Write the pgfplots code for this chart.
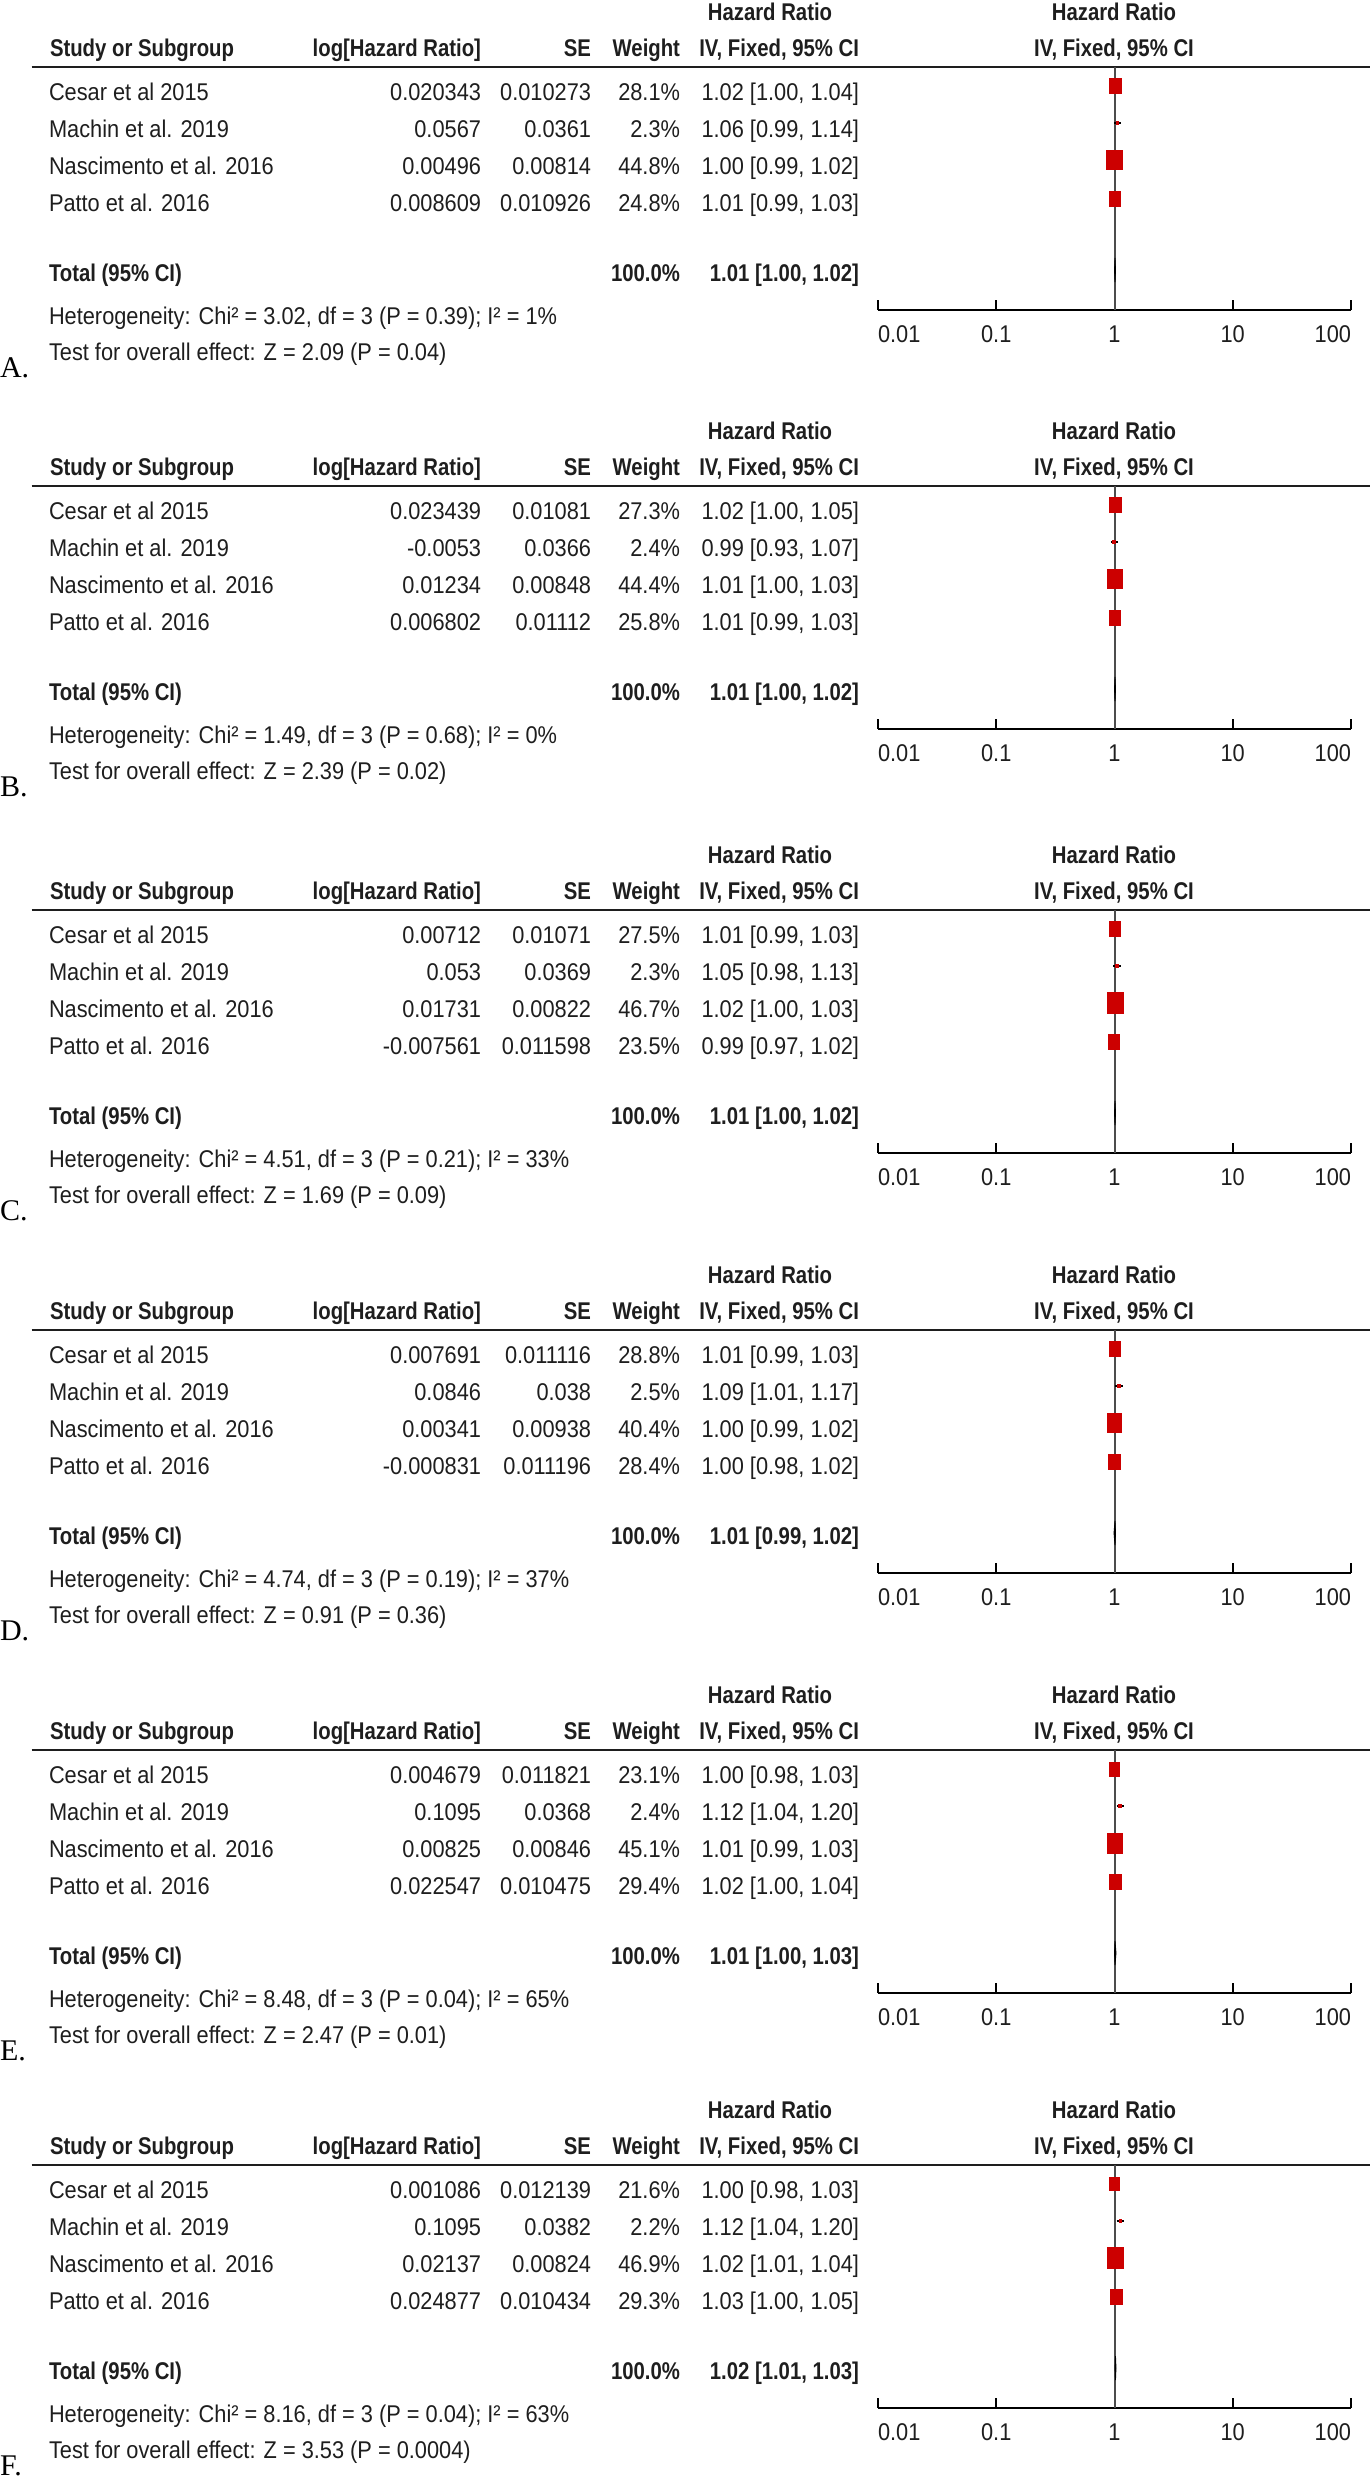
\documentclass[border=0pt]{standalone}
\usepackage{fontspec}
\setmainfont{Liberation Sans}[FakeStretch=0.9, BoldFeatures={FakeStretch=0.84}]
\newfontfamily\serifA{Liberation Serif}
\usepackage{pgfplots}
\pgfplotsset{compat=1.18}
\definecolor{boxred}{RGB}{204,0,0}
\definecolor{txt}{RGB}{30,30,30}
\newcommand\T{\fontsize{12.1}{14}\selectfont}
\pgfdeclareplotmark{fbox}{%
 \pgfpathrectanglecorners{\pgfpoint{-\pgfplotmarksize}{-1.3\pgfplotmarksize}}{\pgfpoint{\pgfplotmarksize}{1.3\pgfplotmarksize}}%
 \pgfusepathqfill}
\pgfplotsset{every axis/.append style={
  xmode=log, xmin=0.01, xmax=100, ymin=-310, ymax=-67,
  width=236.5pt, height=121.5pt, scale only axis,
  axis x line*=bottom, axis y line=none,
  xtick={0.01,0.1,1,10,100},
  xticklabels={{\makebox[0pt][l]{0.01}},0.1,1,10,{\makebox[0pt][r]{100}}},
  xminorticks=false,
  tick align=inside, major tick length=5pt,
  every tick/.style={black, line width=1pt},
  axis line style={black, line width=1.2pt},
  xticklabel style={font=\T, anchor=base, yshift=-16.3pt, text=txt},
  clip=false, anchor=south west,
}}
\newcommand\Head{%
 \node[anchor=base] at (770,\po+20.5) {\bfseries Hazard Ratio};
 \node[anchor=base] at (1114,\po+20.5) {\bfseries Hazard Ratio};
 \node[anchor=base west] at (50,\po+56.5) {\bfseries Study or Subgroup};
 \node[anchor=base east] at (481,\po+56.5) {\bfseries log[Hazard Ratio]};
 \node[anchor=base east] at (591,\po+56.5) {\bfseries SE};
 \node[anchor=base east] at (680,\po+56.5) {\bfseries Weight};
 \node[anchor=base east] at (859,\po+56.5) {\bfseries IV, Fixed, 95\% CI};
 \node[anchor=base] at (1114,\po+56.5) {\bfseries IV, Fixed, 95\% CI};
 \draw[line width=1.3pt, txt] (31.6,\po+67) -- (1370,\po+67);
 \node[anchor=base west] at (49,\po+281.5) {\bfseries Total (95\% CI)};
 \node[anchor=base east] at (680,\po+281.5) {\bfseries 100.0\%};}
\newcommand\Row[6]{%
 \node[anchor=base west] at (49,\po+#1) {#2};
 \node[anchor=base east] at (481,\po+#1) {#3};
 \node[anchor=base east] at (591,\po+#1) {#4};
 \node[anchor=base east] at (680,\po+#1) {#5\%};
 \node[anchor=base east] at (859,\po+#1) {#6};}
\newcommand\Foot[4]{%
 \node[anchor=base east] at (859,\po+281.5) {\bfseries #1};
 \node[anchor=base west] at (49,\po+324.5) {#2};
 \node[anchor=base west] at (49,\po+360.5) {#3};
 \node[anchor=base west, font={\serifA\fontsize{15}{18}\selectfont}, text=black] at (0,\po+377) {#4.};}
\begin{document}
\begin{tikzpicture}[x=0.5pt,y=-0.5pt, every node/.style={inner sep=0pt, outer sep=0pt, text=txt, font=\T}]
\useasboundingbox (0,0) rectangle (1370,2479);
% ---------------- A
\def\po{0}
\Head
\Row{100.5}{Cesar et al 2015}{0.020343}{0.010273}{28.1}{1.02 [1.00, 1.04]}
\Row{137.5}{Machin et al. 2019}{0.0567}{0.0361}{2.3}{1.06 [0.99, 1.14]}
\Row{174.5}{Nascimento et al. 2016}{0.00496}{0.00814}{44.8}{1.00 [0.99, 1.02]}
\Row{211.5}{Patto et al. 2016}{0.008609}{0.010926}{24.8}{1.01 [0.99, 1.03]}
\Foot{1.01 [1.00, 1.02]}{Heterogeneity: Chi² = 3.02, df = 3 (P = 0.39); I² = 1\%}{Test for overall effect: Z = 2.09 (P = 0.04)}{A}
\begin{axis}[at={(439pt,-155pt)}]
\addplot[black!70, line width=1pt] coordinates {(1,-67) (1,-310)};
\addplot[black, line width=1pt] coordinates {(1.00,-86) (1.04,-86)};
\addplot[black, line width=1pt] coordinates {(0.99,-123) (1.14,-123)};
\addplot[black, line width=1pt] coordinates {(0.99,-160) (1.02,-160)};
\addplot[black, line width=1pt] coordinates {(0.99,-199) (1.03,-199)};
\addplot[scatter, only marks, mark=fbox, scatter/use mapped color={draw=boxred, fill=boxred},
  visualization depends on={0.6*sqrt(\thisrow{w}) \as \hw},
  scatter/@pre marker code/.append style={/tikz/mark size=\hw}]
  table[x=hr, y=y, row sep=\\] {hr y w\\ 1.02 -86 28.1\\ 1.06 -123 2.3\\ 1.00 -160 44.8\\ 1.01 -199 24.8\\};
\addplot[fill=black, draw=black, line width=0.4pt] coordinates {(1.00,-270) (1.01,-258) (1.02,-270) (1.01,-282) (1.00,-270)};
\end{axis}
% ---------------- B
\def\po{419}
\Head
\Row{100.5}{Cesar et al 2015}{0.023439}{0.01081}{27.3}{1.02 [1.00, 1.05]}
\Row{137.5}{Machin et al. 2019}{-0.0053}{0.0366}{2.4}{0.99 [0.93, 1.07]}
\Row{174.5}{Nascimento et al. 2016}{0.01234}{0.00848}{44.4}{1.01 [1.00, 1.03]}
\Row{211.5}{Patto et al. 2016}{0.006802}{0.01112}{25.8}{1.01 [0.99, 1.03]}
\Foot{1.01 [1.00, 1.02]}{Heterogeneity: Chi² = 1.49, df = 3 (P = 0.68); I² = 0\%}{Test for overall effect: Z = 2.39 (P = 0.02)}{B}
\begin{axis}[at={(439pt,-364.5pt)}]
\addplot[black!70, line width=1pt] coordinates {(1,-67) (1,-310)};
\addplot[black, line width=1pt] coordinates {(1.00,-86) (1.05,-86)};
\addplot[black, line width=1pt] coordinates {(0.93,-123) (1.07,-123)};
\addplot[black, line width=1pt] coordinates {(1.00,-160) (1.03,-160)};
\addplot[black, line width=1pt] coordinates {(0.99,-199) (1.03,-199)};
\addplot[scatter, only marks, mark=fbox, scatter/use mapped color={draw=boxred, fill=boxred},
  visualization depends on={0.6*sqrt(\thisrow{w}) \as \hw},
  scatter/@pre marker code/.append style={/tikz/mark size=\hw}]
  table[x=hr, y=y, row sep=\\] {hr y w\\ 1.02 -86 27.3\\ 0.99 -123 2.4\\ 1.01 -160 44.4\\ 1.01 -199 25.8\\};
\addplot[fill=black, draw=black, line width=0.4pt] coordinates {(1.00,-270) (1.01,-258) (1.02,-270) (1.01,-282) (1.00,-270)};
\end{axis}
% ---------------- C
\def\po{843}
\Head
\Row{100.5}{Cesar et al 2015}{0.00712}{0.01071}{27.5}{1.01 [0.99, 1.03]}
\Row{137.5}{Machin et al. 2019}{0.053}{0.0369}{2.3}{1.05 [0.98, 1.13]}
\Row{174.5}{Nascimento et al. 2016}{0.01731}{0.00822}{46.7}{1.02 [1.00, 1.03]}
\Row{211.5}{Patto et al. 2016}{-0.007561}{0.011598}{23.5}{0.99 [0.97, 1.02]}
\Foot{1.01 [1.00, 1.02]}{Heterogeneity: Chi² = 4.51, df = 3 (P = 0.21); I² = 33\%}{Test for overall effect: Z = 1.69 (P = 0.09)}{C}
\begin{axis}[at={(439pt,-576.5pt)}]
\addplot[black!70, line width=1pt] coordinates {(1,-67) (1,-310)};
\addplot[black, line width=1pt] coordinates {(0.99,-86) (1.03,-86)};
\addplot[black, line width=1pt] coordinates {(0.98,-123) (1.13,-123)};
\addplot[black, line width=1pt] coordinates {(1.00,-160) (1.03,-160)};
\addplot[black, line width=1pt] coordinates {(0.97,-199) (1.02,-199)};
\addplot[scatter, only marks, mark=fbox, scatter/use mapped color={draw=boxred, fill=boxred},
  visualization depends on={0.6*sqrt(\thisrow{w}) \as \hw},
  scatter/@pre marker code/.append style={/tikz/mark size=\hw}]
  table[x=hr, y=y, row sep=\\] {hr y w\\ 1.01 -86 27.5\\ 1.05 -123 2.3\\ 1.02 -160 46.7\\ 0.99 -199 23.5\\};
\addplot[fill=black, draw=black, line width=0.4pt] coordinates {(1.00,-270) (1.01,-258) (1.02,-270) (1.01,-282) (1.00,-270)};
\end{axis}
% ---------------- D
\def\po{1263}
\Head
\Row{100.5}{Cesar et al 2015}{0.007691}{0.011116}{28.8}{1.01 [0.99, 1.03]}
\Row{137.5}{Machin et al. 2019}{0.0846}{0.038}{2.5}{1.09 [1.01, 1.17]}
\Row{174.5}{Nascimento et al. 2016}{0.00341}{0.00938}{40.4}{1.00 [0.99, 1.02]}
\Row{211.5}{Patto et al. 2016}{-0.000831}{0.011196}{28.4}{1.00 [0.98, 1.02]}
\Foot{1.01 [0.99, 1.02]}{Heterogeneity: Chi² = 4.74, df = 3 (P = 0.19); I² = 37\%}{Test for overall effect: Z = 0.91 (P = 0.36)}{D}
\begin{axis}[at={(439pt,-786.5pt)}]
\addplot[black!70, line width=1pt] coordinates {(1,-67) (1,-310)};
\addplot[black, line width=1pt] coordinates {(0.99,-86) (1.03,-86)};
\addplot[black, line width=1pt] coordinates {(1.01,-123) (1.17,-123)};
\addplot[black, line width=1pt] coordinates {(0.99,-160) (1.02,-160)};
\addplot[black, line width=1pt] coordinates {(0.98,-199) (1.02,-199)};
\addplot[scatter, only marks, mark=fbox, scatter/use mapped color={draw=boxred, fill=boxred},
  visualization depends on={0.6*sqrt(\thisrow{w}) \as \hw},
  scatter/@pre marker code/.append style={/tikz/mark size=\hw}]
  table[x=hr, y=y, row sep=\\] {hr y w\\ 1.01 -86 28.8\\ 1.09 -123 2.5\\ 1.00 -160 40.4\\ 1.00 -199 28.4\\};
\addplot[fill=black, draw=black, line width=0.4pt] coordinates {(0.99,-270) (1.01,-258) (1.02,-270) (1.01,-282) (0.99,-270)};
\end{axis}
% ---------------- E
\def\po{1683}
\Head
\Row{100.5}{Cesar et al 2015}{0.004679}{0.011821}{23.1}{1.00 [0.98, 1.03]}
\Row{137.5}{Machin et al. 2019}{0.1095}{0.0368}{2.4}{1.12 [1.04, 1.20]}
\Row{174.5}{Nascimento et al. 2016}{0.00825}{0.00846}{45.1}{1.01 [0.99, 1.03]}
\Row{211.5}{Patto et al. 2016}{0.022547}{0.010475}{29.4}{1.02 [1.00, 1.04]}
\Foot{1.01 [1.00, 1.03]}{Heterogeneity: Chi² = 8.48, df = 3 (P = 0.04); I² = 65\%}{Test for overall effect: Z = 2.47 (P = 0.01)}{E}
\begin{axis}[at={(439pt,-996.5pt)}]
\addplot[black!70, line width=1pt] coordinates {(1,-67) (1,-310)};
\addplot[black, line width=1pt] coordinates {(0.98,-86) (1.03,-86)};
\addplot[black, line width=1pt] coordinates {(1.04,-123) (1.20,-123)};
\addplot[black, line width=1pt] coordinates {(0.99,-160) (1.03,-160)};
\addplot[black, line width=1pt] coordinates {(1.00,-199) (1.04,-199)};
\addplot[scatter, only marks, mark=fbox, scatter/use mapped color={draw=boxred, fill=boxred},
  visualization depends on={0.6*sqrt(\thisrow{w}) \as \hw},
  scatter/@pre marker code/.append style={/tikz/mark size=\hw}]
  table[x=hr, y=y, row sep=\\] {hr y w\\ 1.00 -86 23.1\\ 1.12 -123 2.4\\ 1.01 -160 45.1\\ 1.02 -199 29.4\\};
\addplot[fill=black, draw=black, line width=0.4pt] coordinates {(1.00,-270) (1.01,-258) (1.03,-270) (1.01,-282) (1.00,-270)};
\end{axis}
% ---------------- F
\def\po{2098}
\Head
\Row{100.5}{Cesar et al 2015}{0.001086}{0.012139}{21.6}{1.00 [0.98, 1.03]}
\Row{137.5}{Machin et al. 2019}{0.1095}{0.0382}{2.2}{1.12 [1.04, 1.20]}
\Row{174.5}{Nascimento et al. 2016}{0.02137}{0.00824}{46.9}{1.02 [1.01, 1.04]}
\Row{211.5}{Patto et al. 2016}{0.024877}{0.010434}{29.3}{1.03 [1.00, 1.05]}
\Foot{1.02 [1.01, 1.03]}{Heterogeneity: Chi² = 8.16, df = 3 (P = 0.04); I² = 63\%}{Test for overall effect: Z = 3.53 (P = 0.0004)}{F}
\begin{axis}[at={(439pt,-1204pt)}]
\addplot[black!70, line width=1pt] coordinates {(1,-67) (1,-310)};
\addplot[black, line width=1pt] coordinates {(0.98,-86) (1.03,-86)};
\addplot[black, line width=1pt] coordinates {(1.04,-123) (1.20,-123)};
\addplot[black, line width=1pt] coordinates {(1.01,-160) (1.04,-160)};
\addplot[black, line width=1pt] coordinates {(1.00,-199) (1.05,-199)};
\addplot[scatter, only marks, mark=fbox, scatter/use mapped color={draw=boxred, fill=boxred},
  visualization depends on={0.6*sqrt(\thisrow{w}) \as \hw},
  scatter/@pre marker code/.append style={/tikz/mark size=\hw}]
  table[x=hr, y=y, row sep=\\] {hr y w\\ 1.00 -86 21.6\\ 1.12 -123 2.2\\ 1.02 -160 46.9\\ 1.03 -199 29.3\\};
\addplot[fill=black, draw=black, line width=0.4pt] coordinates {(1.01,-270) (1.02,-258) (1.03,-270) (1.02,-282) (1.01,-270)};
\end{axis}
\end{tikzpicture}
\end{document}
